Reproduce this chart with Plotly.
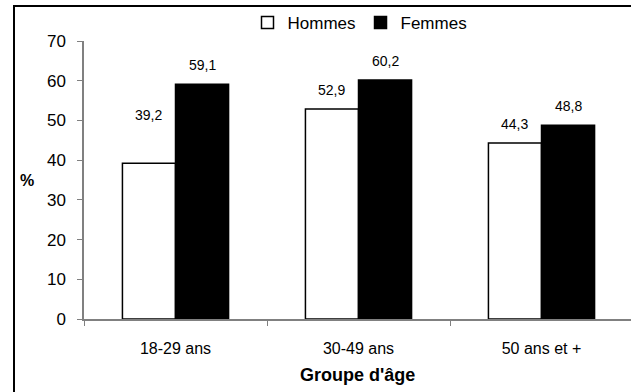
import plotly.graph_objects as go

categories = ["18-29 ans", "30-49 ans", "50 ans et +"]
hommes = [39.2, 52.9, 44.3]
femmes = [59.1, 60.2, 48.8]
hommes_labels = ["39,2", "52,9", "44,3"]
femmes_labels = ["59,1", "60,2", "48,8"]
y_ticks = [0, 10, 20, 30, 40, 50, 60, 70]

W, H = 631, 392
L, R, T, B = 84, 0, 41, 73
pw, ph = W - L - R, H - T - B

def px_x(p):
    return (p - L) / pw

def px_y(p):
    return (H - B - p) / ph

FONT = "Liberation Sans, Arial, sans-serif"

fig = go.Figure()
fig.add_trace(go.Bar(x=categories, y=hommes, name="Hommes",
                     marker=dict(color="white", line=dict(color="black", width=1.5))))
fig.add_trace(go.Bar(x=categories, y=femmes, name="Femmes",
                     marker=dict(color="black", line=dict(color="black", width=1.5))))

# data labels (label offsets above bar tops, in px)
h_shift = [48, 19, 19]
f_shift = [19, 19, 19]
for i, c in enumerate(categories):
    fig.add_annotation(x=i - 0.145, y=hommes[i], xref="x", yref="y", text=hommes_labels[i],
                       showarrow=False, yshift=h_shift[i], yanchor="middle",
                       font=dict(size=14, color="black", family=FONT))
    fig.add_annotation(x=i + 0.145, y=femmes[i], xref="x", yref="y", text=femmes_labels[i],
                       showarrow=False, yshift=f_shift[i], yanchor="middle",
                       font=dict(size=14, color="black", family=FONT))

fig.add_annotation(x=px_x(27), y=0.5, xref="paper", yref="paper", text="<b>%</b>",
                   showarrow=False, xanchor="center", yanchor="middle",
                   font=dict(size=16, color="black", family=FONT))
fig.add_annotation(x=0.5, y=px_y(375), xref="paper", yref="paper", text="<b>Groupe d'âge</b>",
                   showarrow=False, xanchor="center", yanchor="middle",
                   font=dict(size=18, color="black", family=FONT))

# outer frame
fig.add_shape(type="rect", xref="paper", yref="paper",
              x0=px_x(14), x1=px_x(700), y0=px_y(500), y1=px_y(6),
              line=dict(color="black", width=2), fillcolor="rgba(0,0,0,0)", layer="below")

fig.update_layout(
    width=W, height=H,
    margin=dict(l=L, r=R, t=T, b=B, pad=0),
    paper_bgcolor="white", plot_bgcolor="white",
    barmode="group", bargap=0.42, bargroupgap=0,
    font=dict(family=FONT, color="black", size=16),
    showlegend=True,
    legend=dict(orientation="h", x=px_x(360), y=px_y(23), xanchor="center", yanchor="middle",
                font=dict(size=17, family=FONT, color="black"), bgcolor="rgba(0,0,0,0)",
                itemwidth=30, tracegroupgap=0),
    xaxis=dict(range=[-0.5, -0.5 + pw / 183.0], showgrid=False, zeroline=False,
               showline=True, linecolor="#808080", linewidth=1.5,
               ticks="outside", tickson="boundaries", ticklen=5, tickcolor="#808080",
               tickfont=dict(size=16, family=FONT, color="black"), ticklabelstandoff=14,
               fixedrange=True),
    yaxis=dict(range=[0, 70], tickvals=y_ticks, showgrid=False, zeroline=False,
               showline=True, linecolor="#808080", linewidth=1.5,
               ticks="outside", ticklen=5, tickcolor="#808080",
               tickfont=dict(size=17, family=FONT, color="black"), ticklabelstandoff=8,
               fixedrange=True),
)

fig.write_html("out.html", config={"displayModeBar": False},
               post_script="document.body.style.margin='0';document.body.style.overflow='hidden';")
